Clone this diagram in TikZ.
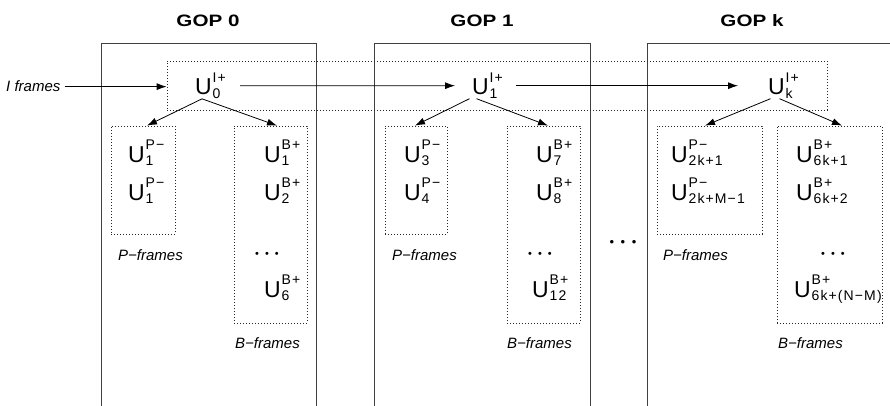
\documentclass[tikz,border=0pt]{standalone}
\usepackage{fontspec}
\setmainfont{Liberation Sans}
\newfontfamily\titlefont[FakeStretch=1.25]{Liberation Sans}
\newfontfamily\scriptfnt[LetterSpace=8]{Liberation Sans}
\usetikzlibrary{arrows.meta}
\newcommand{\sfnt}{\scriptfnt\fontsize{14}{16}\selectfont}
\newcommand{\UU}[2]{%
  \setbox0\hbox{\sfnt #1}\setbox2\hbox{\sfnt #2}%
  U\kern0.8pt\rlap{\raise12.5pt\copy0}\rlap{\lower3.5pt\copy2}%
  \ifdim\wd0>\wd2 \kern\wd0 \else \kern\wd2 \fi}
\newcommand{\smalldots}{{\fontsize{11}{12}\selectfont •\hspace{6pt}•\hspace{6pt}•}}
\newcommand{\bigdots}{{\fontsize{13}{13}\selectfont •\hspace{6.5pt}•\hspace{6.5pt}•}}
\tikzset{
  gopline/.style={draw=black!75, line width=0.8pt},
  dbox/.style={draw=black!85, line width=0.8pt, dash pattern=on 0.8pt off 2.2pt, inner sep=0pt},
  arr/.style={draw=black, line width=0.8pt, -{Latex[length=10pt,width=7pt]}},
  title/.style={font=\titlefont\bfseries\fontsize{16.5}{18}\selectfont, inner sep=0pt, anchor=base},
  uval/.style={font=\fontsize{23}{26}\selectfont, inner sep=0pt, anchor=base west},
  lab/.style={font=\itshape\fontsize{15}{17}\selectfont, inner sep=0pt, anchor=base west}
}
\begin{document}
\begin{tikzpicture}[x=1pt,y=-1pt]
\useasboundingbox (0,0) rectangle (890,406);
% GOP frames (open at bottom)
\coordinate (g0bl) at (101,406); \coordinate (g0tl) at (101,43);
\coordinate (g0tr) at (316,43);  \coordinate (g0br) at (316,406);
\coordinate (g1bl) at (374,406); \coordinate (g1tl) at (374,43);
\coordinate (g1tr) at (590,43);  \coordinate (g1br) at (590,406);
\coordinate (gkbl) at (647,406); \coordinate (gktl) at (647,43);
\coordinate (gktr) at (890,43);
\draw[gopline] (g0bl) -- (g0tl) -- (g0tr) -- (g0br);
\draw[gopline] (g1bl) -- (g1tl) -- (g1tr) -- (g1br);
\draw[gopline] (gkbl) -- (gktl) -- (gktr);
% titles
\node[title] (t0) at (208,27) {GOP 0};
\node[title] (t1) at (482,27) {GOP 1};
\node[title] (tk) at (752,27) {GOP k};
% dotted boxes
\node[dbox, minimum width=660pt, minimum height=49pt] (ibox) at (497,85.5) {};
\node[dbox, minimum width=64pt, minimum height=108pt] (p0) at (143,180) {};
\node[dbox, minimum width=73pt, minimum height=197pt] (b0) at (270.5,224.5) {};
\node[dbox, minimum width=62pt, minimum height=108pt] (p1) at (416,180) {};
\node[dbox, minimum width=73pt, minimum height=197pt] (b1) at (543.5,224.5) {};
\node[dbox, minimum width=105pt, minimum height=108pt] (pk) at (709.5,180) {};
\node[dbox, minimum width=105pt, minimum height=197pt] (bk) at (829.5,224.5) {};
% I frames
\node[lab] (ilab) at (6,92) {I frames};
\node[uval] (u0) at (195,95) {\UU{I+}{0}};
\node[uval] (u1) at (472,95) {\UU{I+}{1}};
\node[uval] (uk) at (768,95) {\UU{I+}{k}};
\draw[arr] ([xshift=4pt]ilab.east) -- (ilab.east -| ibox.west);
\draw[arr] ([xshift=45pt]u0.west) -- ([xshift=-17pt]u1.west);
\draw[arr] ([xshift=44pt]u1.west) -- ([xshift=-30pt]uk.west);
% P/B entries GOP 0
\node[uval] (p0a) at (128,162) {\UU{P−}{1}};
\node[uval] (p0b) at (128,200) {\UU{P−}{1}};
\node[uval] (b0a) at (264,162) {\UU{B+}{1}};
\node[uval] (b0b) at (264,200) {\UU{B+}{2}};
\node (b0d) at (267,255) {\smalldots};
\node[uval] (b0c) at (264,297) {\UU{B+}{6}};
\node[lab] (pl0) at (118,260) {P−frames};
\node[lab] (bl0) at (235,348) {B−frames};
% GOP 1
\node[uval] (p1a) at (404,162) {\UU{P−}{3}};
\node[uval] (p1b) at (404,200) {\UU{P−}{4}};
\node[uval] (b1a) at (536,162) {\UU{B+}{7}};
\node[uval] (b1b) at (536,200) {\UU{B+}{8}};
\node (b1d) at (540,255) {\smalldots};
\node[uval] (b1c) at (532,297) {\UU{B+}{12}};
\node[lab] (pl1) at (392,260) {P−frames};
\node[lab] (bl1) at (507,348) {B−frames};
% GOP k
\node[uval] (pka) at (671,162) {\UU{P−}{2k+1}};
\node[uval] (pkb) at (671,200) {\UU{P−}{2k+M−1}};
\node[uval] (bka) at (796,162) {\UU{B+}{6k+1}};
\node[uval] (bkb) at (796,200) {\UU{B+}{6k+2}};
\node (bkd) at (833,255) {\smalldots};
\node[uval] (bkc) at (794,297) {\UU{B+}{6k+(N−M)}};
\node[lab] (plk) at (663,260) {P−frames};
\node[lab] (blk) at (778,348) {B−frames};
% big dots
\node (gdots) at (623,243) {\bigdots};
% tree arrows
\draw[arr] ([xshift=-8.5pt]u0.south) -- ([xshift=4pt]p0.north);
\draw[arr] ([xshift=-8.5pt]u0.south) -- ([xshift=6.5pt]b0.north);
\draw[arr] ([xshift=-18pt]u1.south) -- ([xshift=-1pt]p1.north);
\draw[arr] ([xshift=-11pt]u1.south) -- ([xshift=4.5pt]b1.north);
\draw[arr] ([xshift=-13pt]uk.south) -- ([xshift=-4.5pt]pk.north);
\draw[arr] ([xshift=-4pt]uk.south) -- ([xshift=12.5pt]bk.north);
\end{tikzpicture}
\end{document}
